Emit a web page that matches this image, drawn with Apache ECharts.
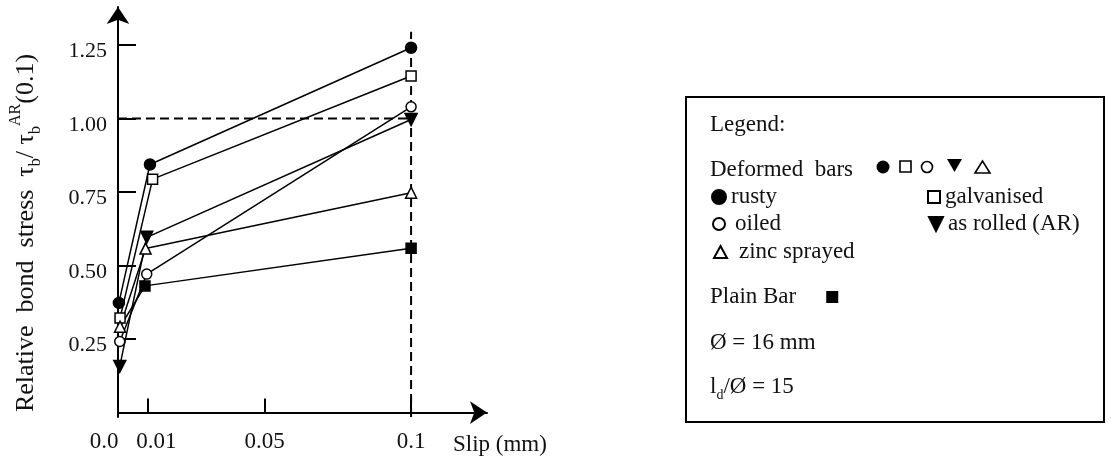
<!DOCTYPE html>
<html><head><meta charset="utf-8">
<script src="https://cdn.jsdelivr.net/npm/echarts@6/dist/echarts.min.js"></script>
<style>html,body{margin:0;padding:0;background:#fff}#c{width:1111px;height:465px}</style>
</head><body><div id="c"></div>
<script>
// ---- data ----
const xTickLabels = [0, 0.01, 0.05, 0.1];
const xTickMarks = [0.01, 0.05, 0.1];
const yTickLabels = [0.25, 0.5, 0.75, 1.0, 1.25];
const rusty      = [[0.0003, 0.373], [0.0109, 0.844], [0.1, 1.241]];
const galvanised = [[0.0007, 0.322], [0.0118, 0.794], [0.1, 1.145]];
const oiled      = [[0.0006, 0.242], [0.0098, 0.471], [0.1, 1.040]];
const asRolled   = [[0.0006, 0.157], [0.0098, 0.596], [0.1, 0.997]];
const zinc       = [[0.0007, 0.292], [0.0094, 0.558], [0.1, 0.748]];
const plainBar   = [[-0.0004, 0.273], [0.0092, 0.431], [0.1, 0.559]];
const refHorizontal = [[0, 1.0], [0.1, 1.0]];
const refVertical   = [[0.1, -0.015], [0.1, 1.295]];

const FONT = '"Liberation Serif", "Times New Roman", serif';
const INK = '#111';
const DOWN_TRI = 'path://M0,0 L10,0 L5,10 Z';

function mk(name, data, symbol, size, filled) {
  return {
    name, type: 'line', data, symbol, symbolSize: size,
    showSymbol: true, z: 5,
    lineStyle: { color: '#000', width: 1.5 },
    itemStyle: { color: filled ? '#000' : '#fff', borderColor: '#000', borderWidth: 1.5 }
  };
}
function refLine(data) {
  return {
    type: 'line', data, symbol: 'none', silent: true, z: 2,
    lineStyle: { color: '#000', width: 2, type: [9, 5] }
  };
}
function leg(name, icon, left, top, w, h, extra) {
  return Object.assign({
    data: [{ name, icon }], left, top, padding: 0, itemWidth: w, itemHeight: h,
    selectedMode: false,
    textStyle: { fontFamily: FONT, fontSize: 23, color: INK, lineHeight: 24 }
  }, extra || {});
}

const chart = echarts.init(document.getElementById('c'));
chart.setOption({
  animation: false,
  backgroundColor: '#fff',
  grid: { left: 118, top: 7, width: 369, height: 410, containLabel: false, outerBoundsMode: 'none' },
  xAxis: {
    type: 'value', min: 0, max: 0.1259,
    splitLine: { show: false },
    axisLine: { lineStyle: { color: '#000', width: 2 }, symbol: ['none', 'arrow'], symbolSize: [17, 17] },
    axisTick: { inside: true, length: 14, lineStyle: { color: '#000', width: 2 }, customValues: xTickMarks },
    axisLabel: {
      customValues: xTickLabels, margin: 13,
      fontFamily: FONT, fontSize: 23, color: INK,
      formatter: v => {
        if (v === 0) return '{l|0.0}';
        if (Math.abs(v - 0.01) < 1e-9) return '{r|0.01}';
        return '{n|' + String(+v.toFixed(2)) + '}';
      },
      rich: {
        l: { fontFamily: FONT, fontSize: 23, color: INK, padding: [0, 28, 0, 0] },
        r: { fontFamily: FONT, fontSize: 23, color: INK, padding: [0, 0, 0, 18] },
        n: { fontFamily: FONT, fontSize: 23, color: INK }
      }
    },
    name: 'Slip (mm)', nameLocation: 'end', nameGap: -34,
    nameTextStyle: { fontFamily: FONT, fontSize: 23, color: INK, align: 'left', verticalAlign: 'top', padding: [21, 0, 0, 0] }
  },
  yAxis: {
    type: 'value', min: -0.015, max: 1.3796,
    splitLine: { show: false },
    axisLine: { lineStyle: { color: '#000', width: 2 }, symbol: ['none', 'arrow'], symbolSize: [17, 17] },
    axisTick: { inside: true, length: 18, lineStyle: { color: '#000', width: 2 }, customValues: yTickLabels },
    axisLabel: {
      customValues: yTickLabels, margin: 11,
      fontFamily: FONT, fontSize: 22, color: INK,
      formatter: v => '{v|' + v.toFixed(2) + '}',
      rich: { v: { fontFamily: FONT, fontSize: 22, color: INK, padding: [13, 0, 0, 0] } }
    },
    name: 'Relative  bond  stress  τ{sub|b}/ τ{sub|b}{sup|AR}(0.1)',
    nameLocation: 'middle', nameRotate: 90, nameGap: 74,
    nameTextStyle: {
      fontFamily: FONT, fontSize: 26, color: INK, lineHeight: 36, padding: [0, 42, 0, 0],
      rich: {
        sub: { fontFamily: FONT, fontSize: 16, color: INK, verticalAlign: 'bottom', lineHeight: 36 },
        sup: { fontFamily: FONT, fontSize: 16, color: INK, verticalAlign: 'top', lineHeight: 36 }
      }
    }
  },
  legend: [
    leg('rusty', 'circle', 711, 185, 14, 14),
    leg('oiled', 'circle', 712, 212, 12, 12, { textStyle: { fontFamily: FONT, fontSize: 23, color: INK, lineHeight: 24, padding: [0, 0, 0, 5] } }),
    leg('zinc sprayed', 'triangle', 713, 240, 13, 12, { textStyle: { fontFamily: FONT, fontSize: 23, color: INK, lineHeight: 24, padding: [0, 0, 0, 7] } }),
    leg('galvanised', 'rect', 927, 185, 12, 12),
    leg('as rolled (AR)', DOWN_TRI, 928, 212, 14, 14),
    leg('Plain Bar', 'rect', 710, 285, 10, 10, { align: 'right', textStyle: { fontFamily: FONT, fontSize: 23, color: INK, lineHeight: 24, padding: [0, 26, 0, 0] } })
  ],
  graphic: [
    { type: 'rect', shape: { x: 686, y: 97, width: 418, height: 325 }, style: { fill: 'none', stroke: '#000', lineWidth: 2 } },
    { type: 'text', style: { text: 'Legend:', x: 710, y: 125, font: '23px ' + FONT, fill: INK, verticalAlign: 'middle' } },
    { type: 'text', style: { text: 'Deformed  bars', x: 710, y: 170, font: '23px ' + FONT, fill: INK, verticalAlign: 'middle' } },
    { type: 'circle', shape: { cx: 883, cy: 167, r: 6.5 }, style: { fill: '#000' } },
    { type: 'rect', shape: { x: 900, y: 161, width: 11, height: 11 }, style: { fill: 'none', stroke: '#000', lineWidth: 1.6 } },
    { type: 'circle', shape: { cx: 927, cy: 167, r: 5.5 }, style: { fill: 'none', stroke: '#000', lineWidth: 1.6 } },
    { type: 'polygon', shape: { points: [[947, 159], [962, 159], [954.5, 172]] }, style: { fill: '#000' } },
    { type: 'polygon', shape: { points: [[975, 173], [990, 173], [982.5, 161]] }, style: { fill: 'none', stroke: '#000', lineWidth: 1.6 } },
    { type: 'text', style: { text: 'Ø = 16 mm', x: 710, y: 343, font: '23px ' + FONT, fill: INK, verticalAlign: 'middle' } },
    { type: 'text', style: {
        text: '{a|l}{s|d}{a|/Ø = 15}', x: 710, y: 387, fill: INK, verticalAlign: 'middle',
        rich: {
          a: { fontFamily: FONT, fontSize: 23, fill: INK, lineHeight: 30, verticalAlign: 'middle' },
          s: { fontFamily: FONT, fontSize: 14, fill: INK, lineHeight: 30, verticalAlign: 'bottom' }
        } } }
  ],
  series: [
    refLine(refHorizontal),
    refLine(refVertical),
    mk('rusty', rusty, 'circle', 11, true),
    mk('galvanised', galvanised, 'rect', 10, false),
    mk('oiled', oiled, 'circle', 10, false),
    mk('as rolled (AR)', asRolled, DOWN_TRI, 12, true),
    mk('zinc sprayed', zinc, 'triangle', 11, false),
    mk('Plain Bar', plainBar, 'rect', 10, true)
  ]
});
</script>
</body></html>
